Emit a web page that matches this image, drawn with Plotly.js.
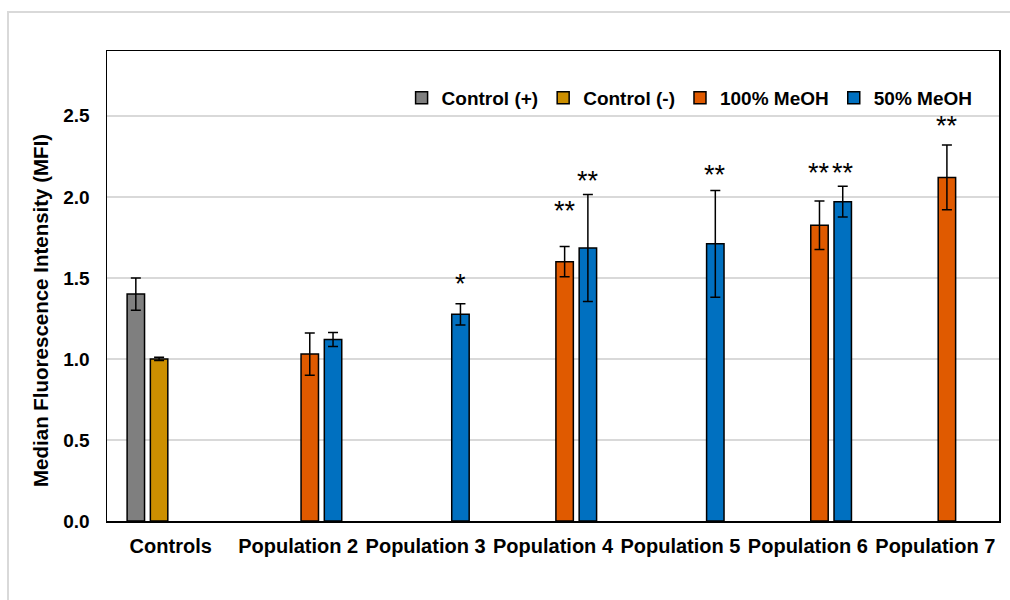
<!DOCTYPE html>
<html>
<head>
<meta charset="utf-8">
<script src="https://cdn.plot.ly/plotly-3.0.1.min.js"></script>
<style>
  html, body { margin: 0; padding: 0; background: #fff; overflow: hidden; }
  #chart { position: absolute; left: 0; top: 0; width: 1010px; height: 600px; }
  #frame { position: absolute; left: 7px; top: 11px; width: 1100px; height: 700px;
           border-left: 2px solid #d9d9d9; border-top: 2px solid #d9d9d9; pointer-events: none; }
</style>
</head>
<body>
<div id="chart"></div>
<div id="frame"></div>
<script>
// ---- data ----
const categories = ['Controls', 'Population 2', 'Population 3', 'Population 4', 'Population 5', 'Population 6', 'Population 7'];
const seriesNames = ['Control (+)', 'Control (-)', '100% MeOH', '50% MeOH'];

const controlPos    = [1.40, null, null, null, null, null, null];
const controlPosErr = [0.10, null, null, null, null, null, null];
const controlNeg    = [1.00, null, null, null, null, null, null];
const controlNegErr = [0.01, null, null, null, null, null, null];
const meoh100       = [null, 1.03, null, 1.60, null, 1.825, 2.12];
const meoh100Err    = [null, 0.13, null, 0.093, null, 0.15, 0.20];
const meoh50        = [null, 1.12, 1.275, 1.685, 1.71, 1.97, null];
const meoh50Err     = [null, 0.043, 0.065, 0.33, 0.33, 0.095, null];

// significance marks and the height (in MFI units) at which each is printed
const sig100   = ['', '', '', '**', '', '**', '**'];
const sig100Y  = [null, null, null, 1.915, null, 2.145, 2.44];
const sig50    = ['', '', '*', '**', '**', '**', ''];
const sig50Y   = [null, null, 1.465, 2.095, 2.135, 2.145, null];

const colors = ['#7f7f7f', '#cc8f00', '#e05a00', '#0070c0'];

const BARGAP = 0.27;
const NSLOTS = 4;
const slot = (1 - BARGAP) / NSLOTS;

function barTrace(name, y, err, color) {
  return {
    type: 'bar', name: name, x: categories, y: y,
    marker: { color: color, line: { color: '#000', width: 1.5 } },
    error_y: { type: 'data', array: err, visible: true, color: '#000', thickness: 1.5, width: 5 },
    hoverinfo: 'x+y+name'
  };
}

const data = [
  barTrace(seriesNames[0], controlPos, controlPosErr, colors[0]),
  barTrace(seriesNames[1], controlNeg, controlNegErr, colors[1]),
  barTrace(seriesNames[2], meoh100, meoh100Err, colors[2]),
  barTrace(seriesNames[3], meoh50, meoh50Err, colors[3])
];

const FONT = 'Liberation Sans, Arial, sans-serif';
const annotations = [];
function addSig(labels, ys, slotIndex) {
  labels.forEach((t, i) => {
    if (!t) return;
    annotations.push({
      xref: 'x', yref: 'y', x: i + (slotIndex - 1.5) * slot, y: ys[i],
      text: t, showarrow: false, xanchor: 'center', yanchor: 'middle',
      font: { family: FONT, size: 27, color: '#000' }
    });
  });
}
addSig(sig100, sig100Y, 2);
addSig(sig50, sig50Y, 3);

annotations.push({
  xref: 'paper', yref: 'paper', x: -0.074, y: 0.449,
  text: 'Median Fluorescence Intensity (MFI)', textangle: -90, showarrow: false,
  xanchor: 'center', yanchor: 'middle',
  font: { family: FONT, size: 20.5, color: '#000', weight: 'bold' }
});

const layout = {
  width: 1010, height: 600,
  margin: { l: 107, r: 11, t: 51, b: 79 },
  paper_bgcolor: '#fff', plot_bgcolor: '#fff',
  barmode: 'group', bargap: BARGAP, bargroupgap: 0.25,
  showlegend: true,
  legend: {
    orientation: 'h', x: 0.976, xanchor: 'right', y: 0.90, yanchor: 'middle',
    font: { family: FONT, size: 19, color: '#000', weight: 'bold' },
    bgcolor: 'rgba(0,0,0,0)', itemwidth: 30, traceorder: 'normal'
  },
  xaxis: {
    type: 'category', showline: true, linecolor: '#000', linewidth: 1.5, mirror: true,
    showgrid: false, ticks: '', ticklabelstandoff: 6,
    tickfont: { family: FONT, size: 20, color: '#000', weight: 'bold' }
  },
  yaxis: {
    range: [0, 2.9], dtick: 0.5, tick0: 0, tickformat: '.1f',
    showline: true, linecolor: '#000', linewidth: 1.5, mirror: true,
    showgrid: true, gridcolor: '#d9d9d9', gridwidth: 1.5, zeroline: false,
    ticks: '', ticklabelstandoff: 12,
    tickfont: { family: FONT, size: 19, color: '#000', weight: 'bold' }
  },
  annotations: annotations
};

Plotly.newPlot('chart', data, layout, { displayModeBar: false, staticPlot: true });
</script>
</body>
</html>
